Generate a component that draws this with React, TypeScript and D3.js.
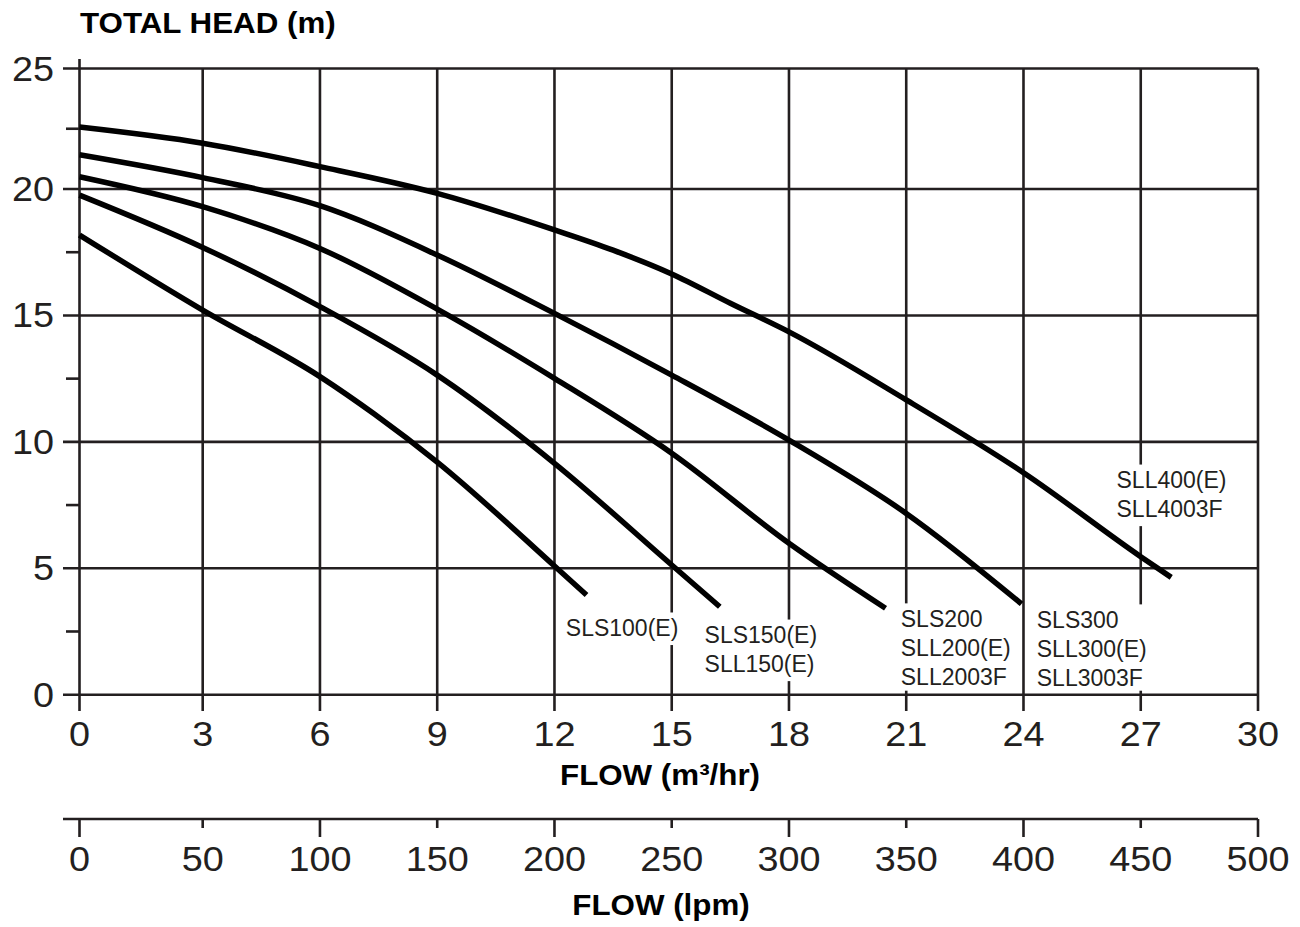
import React from 'react';
import * as d3 from 'd3';

// ---- data ----
const flowTicks = [0, 3, 6, 9, 12, 15, 18, 21, 24, 27, 30];
const lpmTicks = [0, 50, 100, 150, 200, 250, 300, 350, 400, 450, 500];
const headTicks = [0, 5, 10, 15, 20, 25];
const headMinorTicks = [2.5, 7.5, 12.5, 17.5, 22.5];

const sls100: [number, number][] = [
  [0, 18.18], [3, 15.21], [6, 12.58], [7.39, 11.1], [9, 9.2], [12, 5.09], [12.82, 3.94],
];
const sls150: [number, number][] = [
  [0, 19.76], [3, 17.69], [6, 15.35], [9, 12.64], [12, 9.15], [15, 5.13], [16.23, 3.48],
];
const sls200: [number, number][] = [
  [0, 20.51], [3, 19.3], [6, 17.65], [9, 15.25], [12, 12.51], [15, 9.55], [18, 5.99], [20.47, 3.42],
];
const sls300: [number, number][] = [
  [0, 21.42], [3, 20.47], [6, 19.34], [9, 17.39], [12, 15.08], [15, 12.64], [18, 10.07], [21, 7.17], [23.95, 3.59],
];
const sll400: [number, number][] = [
  [0, 22.57], [3, 21.9], [6, 20.93], [9, 19.83], [12, 18.38], [13.5, 17.58], [15, 16.64], [16.5, 15.48], [18, 14.35], [21, 11.66], [24, 8.78], [27, 5.46], [27.78, 4.64],
];

const curveSeries = [sls100, sls150, sls200, sls300, sll400];
const curveLabels = [
  ['SLS100(E)'],
  ['SLS150(E)', 'SLL150(E)'],
  ['SLS200', 'SLL200(E)', 'SLL2003F'],
  ['SLS300', 'SLL300(E)', 'SLL3003F'],
  ['SLL400(E)', 'SLL4003F'],
];
// label anchors in data units (flow, head) of the first baseline
const labelAnchors: [number, number][] = [
  [12.29, 2.32], [15.84, 2.04], [20.86, 2.68], [24.34, 2.64], [26.38, 8.17],
];

const W = 1300;
const H = 927;
const INK = '#231f20';
const FONT = '"Liberation Sans", Arial, Helvetica, sans-serif';
const STRETCH = 1.08;

let measureCtx: CanvasRenderingContext2D | null = null;
function measure(text: string, font: string): number {
  if (!measureCtx) {
    const c = document.createElement('canvas');
    measureCtx = c.getContext('2d');
  }
  if (!measureCtx) return text.length * 12;
  measureCtx.font = font;
  return measureCtx.measureText(text).width;
}

export default function App() {
  // the printed grid has a slightly wider first column / top row
  const x = d3.scaleLinear().domain([0, 3, 30]).range([79.5, 202.7, 1258]);
  const xl = d3.scaleLinear().domain([0, 50, 500]).range([79.5, 202.7, 1258]);
  const y = d3.scaleLinear().domain([0, 20, 25]).range([694.7, 189, 68.5]);

  const line = d3
    .line<[number, number]>()
    .x((d) => x(d[0]))
    .y((d) => y(d[1]))
    .curve(d3.curveMonotoneX);

  const labelSize = 23;
  const lineH = 29;
  const labelFont = `${labelSize}px ${FONT}`;

  const gridW = 2.6;
  const axisLeft = 63;
  const lowerAxisY = 819;

  return (
    <svg
      width={W}
      height={H}
      viewBox={`0 0 ${W} ${H}`}
      style={{ position: 'absolute', left: 0, top: 0, display: 'block', background: '#fff' }}
      fontFamily={FONT}
    >
      <rect x={0} y={0} width={W} height={H} fill="#fff" />

      {/* horizontal gridlines */}
      {headTicks.map((t) => (
        <line key={'h' + t} x1={axisLeft} x2={x(30)} y1={y(t)} y2={y(t)} stroke={INK} strokeWidth={gridW} />
      ))}
      {/* minor y ticks */}
      {headMinorTicks.map((t) => (
        <line key={'m' + t} x1={66} x2={x(0)} y1={y(t)} y2={y(t)} stroke={INK} strokeWidth={gridW} />
      ))}
      {/* vertical gridlines */}
      {flowTicks.map((t) => (
        <line
          key={'v' + t}
          x1={x(t)}
          x2={x(t)}
          y1={t === 0 ? 59 : y(25)}
          y2={711}
          stroke={INK}
          strokeWidth={gridW}
        />
      ))}

      {/* white boxes behind curve labels */}
      {curveLabels.map((lines, i) => {
        const ax = x(labelAnchors[i][0]);
        const ay = y(labelAnchors[i][1]);
        const w = Math.max(...lines.map((s) => measure(s, labelFont)));
        const top = ay - labelSize * 0.72 - 7;
        const bottom = Math.min(ay + (lines.length - 1) * lineH + 9, y(0) - 4);
        return <rect key={'bg' + i} x={ax - 5} y={top} width={w + 10} height={bottom - top} fill="#fff" />;
      })}

      {/* curves */}
      {curveSeries.map((s, i) => (
        <path key={'c' + i} d={line(s) || ''} fill="none" stroke="#000" strokeWidth={5.5} strokeLinecap="butt" strokeLinejoin="round" />
      ))}

      {/* curve labels */}
      {curveLabels.map((lines, i) => {
        const ax = x(labelAnchors[i][0]);
        const ay = y(labelAnchors[i][1]);
        return (
          <g key={'lab' + i}>
            {lines.map((s, j) => (
              <text key={j} x={ax} y={ay + j * lineH} fontSize={labelSize} fill={INK}>
                {s}
              </text>
            ))}
          </g>
        );
      })}

      {/* y tick labels */}
      {headTicks.map((t) => (
        <text
          key={'yl' + t}
          transform={`translate(54,${y(t) + 12}) scale(${STRETCH},1)`}
          textAnchor="end"
          fontSize={35}
          fill={INK}
        >
          {t}
        </text>
      ))}

      {/* x tick labels */}
      {flowTicks.map((t) => (
        <text
          key={'xl' + t}
          transform={`translate(${x(t)},746) scale(${STRETCH},1)`}
          textAnchor="middle"
          fontSize={35}
          fill={INK}
        >
          {t}
        </text>
      ))}

      {/* titles */}
      <text transform={`translate(80,33) scale(${STRETCH},1)`} fontSize={29} fontWeight="bold" fill="#000">
        TOTAL HEAD (m)
      </text>
      <text transform={`translate(660,785) scale(${STRETCH},1)`} textAnchor="middle" fontSize={29} fontWeight="bold" fill="#000">
        FLOW (m³/hr)
      </text>

      {/* lower lpm axis */}
      <line x1={axisLeft} x2={xl(500)} y1={lowerAxisY} y2={lowerAxisY} stroke={INK} strokeWidth={gridW} />
      {lpmTicks.map((t) => (
        <line
          key={'lt' + t}
          x1={xl(t)}
          x2={xl(t)}
          y1={lowerAxisY}
          y2={t % 100 === 0 ? 837 : 828}
          stroke={INK}
          strokeWidth={gridW}
        />
      ))}
      {lpmTicks.map((t) => (
        <text
          key={'ll' + t}
          transform={`translate(${xl(t)},871) scale(${STRETCH},1)`}
          textAnchor="middle"
          fontSize={35}
          fill={INK}
        >
          {t}
        </text>
      ))}
      <text transform={`translate(661,915) scale(${STRETCH},1)`} textAnchor="middle" fontSize={29} fontWeight="bold" fill="#000">
        FLOW (lpm)
      </text>
    </svg>
  );
}
